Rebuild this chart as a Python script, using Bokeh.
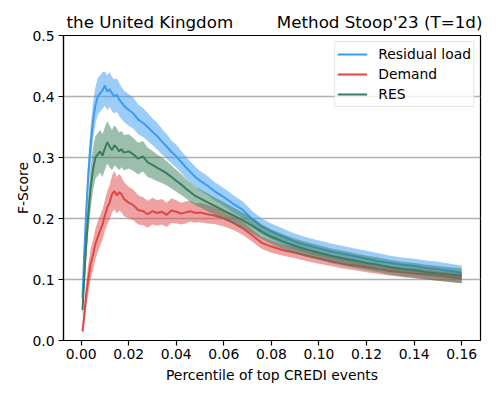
from bokeh.plotting import figure
from bokeh.models import (Range1d, FixedTicker, NumeralTickFormatter, LinearAxis,
                          Legend, LegendItem, ColumnDataSource)
from bokeh.embed import file_html
from bokeh.resources import INLINE

# ---- data ----
percentile = [0.0006, 0.0013, 0.002, 0.003, 0.004, 0.005, 0.006, 0.007, 0.008, 0.009,
              0.010, 0.011, 0.012, 0.013, 0.014, 0.015, 0.016, 0.017, 0.018, 0.020,
              0.022, 0.024, 0.026, 0.028, 0.030, 0.032, 0.034, 0.036, 0.038, 0.040,
              0.042, 0.044, 0.046, 0.048, 0.050, 0.053, 0.056, 0.060, 0.064, 0.068,
              0.072, 0.076, 0.080, 0.085, 0.090, 0.095, 0.100, 0.105, 0.110, 0.115,
              0.120, 0.125, 0.130, 0.135, 0.140, 0.145, 0.150, 0.155, 0.160]

residual_mean = [0.07, 0.14, 0.20, 0.27, 0.32, 0.36, 0.385, 0.40, 0.405, 0.41,
                 0.418, 0.408, 0.412, 0.405, 0.40, 0.403, 0.395, 0.39, 0.385, 0.378,
                 0.372, 0.362, 0.357, 0.35, 0.342, 0.335, 0.326, 0.318, 0.309, 0.302,
                 0.293, 0.284, 0.276, 0.268, 0.262, 0.254, 0.245, 0.235, 0.224, 0.214,
                 0.199, 0.187, 0.179, 0.17, 0.162, 0.156, 0.151, 0.146, 0.142, 0.138,
                 0.134, 0.13, 0.127, 0.124, 0.122, 0.119, 0.117, 0.114, 0.111]
residual_lo = [0.05, 0.12, 0.175, 0.245, 0.29, 0.33, 0.355, 0.37, 0.375, 0.38,
               0.385, 0.378, 0.383, 0.376, 0.372, 0.375, 0.368, 0.363, 0.358, 0.352,
               0.347, 0.338, 0.334, 0.327, 0.32, 0.313, 0.305, 0.298, 0.29, 0.283,
               0.275, 0.266, 0.259, 0.252, 0.246, 0.239, 0.23, 0.22, 0.21, 0.2,
               0.186, 0.174, 0.166, 0.157, 0.149, 0.143, 0.138, 0.133, 0.129, 0.125,
               0.121, 0.118, 0.115, 0.112, 0.11, 0.107, 0.105, 0.102, 0.099]
residual_hi = [0.09, 0.165, 0.225, 0.30, 0.35, 0.39, 0.415, 0.43, 0.435, 0.44,
               0.44, 0.435, 0.44, 0.432, 0.428, 0.43, 0.422, 0.416, 0.41, 0.404,
               0.398, 0.387, 0.381, 0.373, 0.364, 0.357, 0.347, 0.338, 0.328, 0.321,
               0.311, 0.302, 0.293, 0.285, 0.278, 0.27, 0.26, 0.25, 0.238, 0.228,
               0.212, 0.2, 0.192, 0.183, 0.175, 0.169, 0.164, 0.159, 0.155, 0.151,
               0.147, 0.143, 0.139, 0.136, 0.134, 0.131, 0.129, 0.126, 0.123]

demand_mean = [0.015, 0.04, 0.07, 0.10, 0.125, 0.14, 0.158, 0.17, 0.18, 0.19,
               0.205, 0.218, 0.226, 0.24, 0.245, 0.238, 0.243, 0.24, 0.232, 0.226,
               0.222, 0.214, 0.212, 0.207, 0.212, 0.209, 0.211, 0.206, 0.213, 0.211,
               0.208, 0.21, 0.212, 0.209, 0.21, 0.207, 0.205, 0.2, 0.193, 0.184,
               0.172, 0.16, 0.154, 0.148, 0.144, 0.139, 0.135, 0.13, 0.126, 0.123,
               0.12, 0.117, 0.114, 0.112, 0.11, 0.108, 0.106, 0.104, 0.102]
demand_lo = [0.008, 0.025, 0.05, 0.075, 0.10, 0.115, 0.133, 0.145, 0.155, 0.165,
             0.18, 0.19, 0.198, 0.21, 0.215, 0.208, 0.213, 0.21, 0.204, 0.2,
             0.197, 0.19, 0.189, 0.185, 0.19, 0.188, 0.19, 0.186, 0.193, 0.192,
             0.19, 0.192, 0.195, 0.193, 0.194, 0.192, 0.191, 0.187, 0.181, 0.173,
             0.162, 0.15, 0.144, 0.139, 0.135, 0.13, 0.126, 0.122, 0.118, 0.115,
             0.112, 0.109, 0.106, 0.104, 0.102, 0.1, 0.098, 0.096, 0.094]
demand_hi = [0.025, 0.055, 0.09, 0.125, 0.15, 0.165, 0.183, 0.195, 0.205, 0.215,
             0.23, 0.245, 0.255, 0.27, 0.278, 0.268, 0.273, 0.268, 0.26, 0.252,
             0.247, 0.238, 0.235, 0.229, 0.234, 0.23, 0.232, 0.226, 0.233, 0.23,
             0.226, 0.228, 0.229, 0.225, 0.226, 0.222, 0.219, 0.213, 0.205, 0.195,
             0.182, 0.17, 0.164, 0.157, 0.153, 0.148, 0.144, 0.138, 0.134, 0.131,
             0.128, 0.125, 0.122, 0.12, 0.118, 0.116, 0.114, 0.112, 0.11]

res_mean = [0.05, 0.10, 0.15, 0.205, 0.25, 0.28, 0.30, 0.305, 0.31, 0.303,
            0.315, 0.325, 0.318, 0.312, 0.32, 0.316, 0.31, 0.314, 0.308, 0.31,
            0.305, 0.298, 0.302, 0.292, 0.288, 0.283, 0.279, 0.274, 0.268, 0.262,
            0.256, 0.249, 0.243, 0.237, 0.233, 0.227, 0.221, 0.213, 0.205, 0.197,
            0.188, 0.178, 0.17, 0.162, 0.155, 0.149, 0.144, 0.139, 0.135, 0.131,
            0.127, 0.124, 0.12, 0.117, 0.115, 0.112, 0.11, 0.108, 0.106]
res_lo = [0.035, 0.08, 0.125, 0.175, 0.215, 0.245, 0.265, 0.27, 0.275, 0.268,
          0.28, 0.29, 0.284, 0.279, 0.287, 0.284, 0.279, 0.284, 0.279, 0.282,
          0.278, 0.272, 0.277, 0.268, 0.265, 0.261, 0.258, 0.254, 0.249, 0.244,
          0.239, 0.233, 0.227, 0.222, 0.218, 0.212, 0.207, 0.199, 0.192, 0.184,
          0.175, 0.166, 0.158, 0.15, 0.143, 0.137, 0.132, 0.127, 0.123, 0.119,
          0.115, 0.112, 0.108, 0.105, 0.103, 0.1, 0.098, 0.096, 0.094]
res_hi = [0.065, 0.12, 0.175, 0.235, 0.285, 0.315, 0.335, 0.34, 0.345, 0.338,
          0.35, 0.36, 0.352, 0.345, 0.353, 0.348, 0.341, 0.344, 0.337, 0.338,
          0.332, 0.324, 0.327, 0.316, 0.311, 0.305, 0.3, 0.294, 0.287, 0.28,
          0.273, 0.265, 0.259, 0.252, 0.248, 0.242, 0.235, 0.227, 0.218, 0.21,
          0.201, 0.19, 0.182, 0.174, 0.167, 0.161, 0.156, 0.151, 0.147, 0.143,
          0.139, 0.136, 0.132, 0.129, 0.127, 0.124, 0.122, 0.12, 0.118]

series_names = ["Residual load", "Demand", "RES"]
series_colors = ["#3a9cf2", "#e04646", "#3a7d5c"]
x_ticks = [0.00, 0.02, 0.04, 0.06, 0.08, 0.10, 0.12, 0.14, 0.16]
y_ticks = [0.0, 0.1, 0.2, 0.3, 0.4, 0.5]
title_left = "the United Kingdom"
title_right = "Method Stoop'23 (T=1d)"
x_label = "Percentile of top CREDI events"
y_label = "F-Score"

FONT = "DejaVu Sans"
FW, FH = 417, 305

p = figure(frame_width=FW, frame_height=FH, output_backend="svg", toolbar_location=None,
           x_range=Range1d(-0.0074, 0.1679), y_range=Range1d(0.0, 0.5),
           min_border_left=63, min_border_right=7, min_border_top=35, min_border_bottom=46)

p.title.text = ""
p.title.visible = False

p.background_fill_color = "white"
p.border_fill_color = "white"
p.outline_line_color = "black"
p.outline_line_width = 1.2

p.xgrid.grid_line_color = None
p.ygrid.grid_line_color = "#b0b0b0"
p.ygrid.grid_line_width = 1.3
p.ygrid.ticker = FixedTicker(ticks=y_ticks)

for ax in (p.xaxis[0], p.yaxis[0]):
    ax.axis_line_color = "black"
    ax.axis_line_width = 1.2
    ax.major_tick_line_color = "black"
    ax.major_tick_line_width = 1.2
    ax.major_tick_out = 5
    ax.major_tick_in = 0
    ax.minor_tick_line_color = None
    ax.major_label_text_font = FONT
    ax.major_label_text_font_size = "13.9px"
    ax.major_label_text_color = "black"
    ax.axis_label_text_font = FONT
    ax.axis_label_text_font_size = "13.9px"
    ax.axis_label_text_font_style = "normal"
    ax.axis_label_text_color = "black"

p.xaxis.ticker = FixedTicker(ticks=x_ticks)
p.xaxis.formatter = NumeralTickFormatter(format="0.00")
p.xaxis.axis_label = x_label
p.xaxis.major_label_standoff = 3
p.xaxis.axis_label_standoff = 5
p.yaxis.ticker = FixedTicker(ticks=y_ticks)
p.yaxis.formatter = NumeralTickFormatter(format="0.0")
p.yaxis.axis_label = y_label
p.yaxis.major_label_standoff = 4
p.yaxis.axis_label_standoff = -2

# two header texts drawn as labels of an invisible top axis (one row, left + right)
title_pos = [0.0289, 0.1255]
top_axis = LinearAxis(ticker=FixedTicker(ticks=title_pos),
                      major_label_overrides={title_pos[0]: title_left, title_pos[1]: title_right})
top_axis.axis_line_color = None
top_axis.major_tick_line_color = None
top_axis.minor_tick_line_color = None
top_axis.major_tick_out = 0
top_axis.major_tick_in = 0
top_axis.major_label_standoff = 4
top_axis.major_label_text_font = FONT
top_axis.major_label_text_font_size = "16.7px"
top_axis.major_label_text_color = "black"
p.add_layout(top_axis, "above")

series = [
    (residual_mean, residual_lo, residual_hi),
    (demand_mean, demand_lo, demand_hi),
    (res_mean, res_lo, res_hi),
]

items = []
for name, color, (m, lo, hi) in zip(series_names, series_colors, series):
    src = ColumnDataSource(dict(x=percentile, m=m, lo=lo, hi=hi))
    p.varea(x="x", y1="lo", y2="hi", source=src, fill_color=color, fill_alpha=0.5)
    r = p.line(x="x", y="m", source=src, line_color=color, line_width=2)
    items.append(LegendItem(label=name, renderers=[r]))

legend = Legend(items=items, location="top_right")
legend.label_text_font = FONT
legend.label_text_font_size = "13.9px"
legend.label_text_color = "black"
legend.glyph_width = 30
legend.glyph_height = 20
legend.label_height = 20
legend.label_standoff = 11
legend.spacing = 0
legend.padding = 2
legend.margin = 6
legend.border_line_color = "#cccccc"
legend.border_line_width = 1
legend.background_fill_alpha = 0.8
p.add_layout(legend)

open("out.html", "w").write(file_html(p, INLINE))
